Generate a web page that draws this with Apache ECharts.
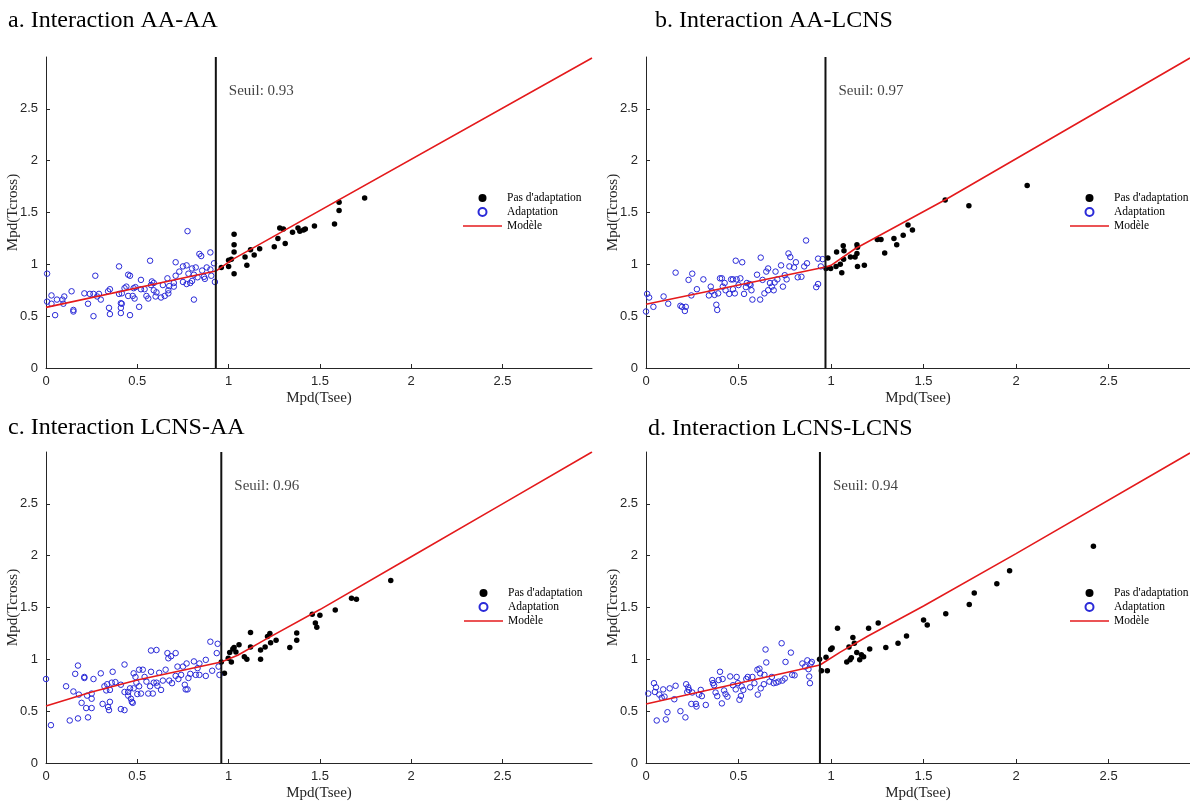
<!DOCTYPE html>
<html>
<head>
<meta charset="utf-8">
<script src="https://cdn.jsdelivr.net/npm/echarts@6/dist/echarts.min.js"></script>
<style>
html,body{margin:0;padding:0;background:#fff;}
#chart{width:1190px;height:804px;}
</style>
</head>
<body>
<div id="chart"></div>
<script>
// ---------------- DATA ----------------
const panelTitles = ['a. Interaction AA-AA', 'b. Interaction AA-LCNS', 'c. Interaction LCNS-AA', 'd. Interaction LCNS-LCNS'];
const thresholds = [0.93, 0.97, 0.96, 0.94];
const seuilLabels = ['Seuil: 0.93', 'Seuil: 0.97', 'Seuil: 0.96', 'Seuil: 0.94'];
const legendNames = ["Pas d'adaptation", 'Adaptation', 'Modèle'];
const tickValues = [0, 0.5, 1, 1.5, 2, 2.5];
const xAxisName = 'Mpd(Tsee)';
const yAxisName = 'Mpd(Tcross)';

// Panel a
const aBlue = [[0.006,0.91],[0.006,0.64],[0.03,0.70],[0.03,0.62],[0.05,0.51],[0.06,0.66],[0.09,0.66],[0.10,0.69],[0.095,0.62],[0.14,0.74],[0.15,0.56],[0.15,0.545],[0.21,0.72],[0.23,0.62],[0.24,0.715],[0.26,0.50],[0.26,0.715],[0.27,0.89],[0.28,0.69],[0.29,0.715],[0.30,0.66],[0.34,0.74],[0.345,0.58],[0.35,0.52],[0.35,0.76],[0.40,0.715],[0.40,0.98],[0.41,0.625],[0.41,0.58],[0.41,0.53],[0.415,0.62],[0.415,0.72],[0.43,0.77],[0.44,0.785],[0.45,0.90],[0.45,0.695],[0.46,0.51],[0.46,0.89],[0.475,0.695],[0.48,0.77],[0.485,0.67],[0.49,0.78],[0.51,0.59],[0.52,0.85],[0.52,0.76],[0.54,0.76],[0.55,0.695],[0.56,0.67],[0.57,1.035],[0.575,0.80],[0.58,0.835],[0.59,0.82],[0.59,0.75],[0.60,0.69],[0.605,0.73],[0.63,0.68],[0.64,0.80],[0.65,0.695],[0.665,0.865],[0.67,0.75],[0.67,0.72],[0.675,0.79],[0.70,0.82],[0.70,0.785],[0.71,1.02],[0.71,0.89],[0.73,0.93],[0.75,0.98],[0.75,0.83],[0.77,0.81],[0.77,0.99],[0.775,1.32],[0.78,0.91],[0.79,0.82],[0.80,0.84],[0.80,0.96],[0.81,0.66],[0.81,0.90],[0.82,0.97],[0.83,0.875],[0.84,1.10],[0.85,1.08],[0.855,0.94],[0.865,0.88],[0.87,0.86],[0.88,0.97],[0.90,0.95],[0.90,1.115],[0.905,0.89],[0.92,1.01],[0.925,0.83]];
const aBlack = [[0.96,0.97],[1.0,0.98],[1.0,1.04],[1.015,1.05],[1.03,1.29],[1.03,1.19],[1.03,1.12],[1.03,0.91],[1.09,1.07],[1.10,0.99],[1.12,1.14],[1.14,1.09],[1.17,1.15],[1.25,1.17],[1.27,1.25],[1.28,1.35],[1.30,1.34],[1.31,1.20],[1.35,1.31],[1.38,1.35],[1.39,1.32],[1.41,1.33],[1.42,1.34],[1.47,1.37],[1.58,1.39],[1.605,1.60],[1.605,1.52],[1.745,1.64]];
const aModel = [[0,0.585],[0.93,0.935],[1.02,1.045],[2.99,2.99]];

// Panel b
const bBlue = [[0,0.545],[0.006,0.715],[0.017,0.68],[0.04,0.59],[0.095,0.69],[0.12,0.62],[0.16,0.92],[0.186,0.60],[0.195,0.59],[0.21,0.55],[0.215,0.59],[0.23,0.85],[0.245,0.70],[0.25,0.91],[0.275,0.76],[0.31,0.855],[0.34,0.70],[0.35,0.785],[0.355,0.74],[0.37,0.705],[0.38,0.61],[0.385,0.56],[0.39,0.72],[0.40,0.865],[0.41,0.865],[0.415,0.785],[0.425,0.82],[0.43,0.75],[0.45,0.715],[0.46,0.855],[0.47,0.855],[0.47,0.76],[0.48,0.72],[0.485,1.035],[0.49,0.855],[0.50,0.80],[0.51,0.865],[0.52,1.02],[0.53,0.715],[0.54,0.78],[0.545,0.82],[0.56,0.81],[0.565,0.80],[0.57,0.75],[0.575,0.66],[0.60,0.90],[0.617,0.66],[0.62,1.065],[0.63,0.85],[0.64,0.72],[0.65,0.93],[0.66,0.96],[0.66,0.75],[0.67,0.82],[0.68,0.785],[0.69,0.75],[0.695,0.825],[0.70,0.93],[0.71,0.855],[0.73,0.99],[0.74,0.785],[0.75,0.895],[0.76,0.855],[0.77,1.105],[0.775,0.98],[0.78,1.07],[0.80,0.97],[0.81,1.02],[0.82,0.875],[0.84,0.88],[0.855,0.98],[0.865,1.23],[0.87,1.01],[0.92,0.78],[0.93,0.81],[0.93,1.055],[0.945,0.98],[0.955,1.05]];
const bBlack = [[0.973,0.96],[0.983,1.06],[0.998,0.96],[1.027,0.98],[1.03,1.12],[1.05,1.0],[1.058,0.92],[1.068,1.05],[1.066,1.18],[1.07,1.13],[1.105,1.07],[1.13,1.07],[1.14,1.105],[1.14,1.19],[1.143,1.165],[1.143,0.98],[1.18,0.99],[1.25,1.24],[1.27,1.24],[1.29,1.11],[1.34,1.25],[1.355,1.19],[1.39,1.28],[1.416,1.38],[1.44,1.33],[1.617,1.62],[1.745,1.565],[2.06,1.76]];
const bModel = [[0,0.615],[0.97,0.975],[1.0,0.99],[1.13,1.15],[1.62,1.625],[2.94,2.99]];

// Panel c
const cBlue = [[0.0,0.81],[0.027,0.365],[0.11,0.74],[0.13,0.41],[0.15,0.69],[0.16,0.86],[0.175,0.94],[0.18,0.66],[0.175,0.43],[0.195,0.58],[0.21,0.83],[0.21,0.82],[0.22,0.53],[0.225,0.65],[0.23,0.44],[0.25,0.67],[0.25,0.53],[0.25,0.62],[0.26,0.81],[0.30,0.865],[0.31,0.57],[0.32,0.74],[0.33,0.70],[0.335,0.76],[0.34,0.54],[0.345,0.51],[0.35,0.705],[0.35,0.59],[0.36,0.775],[0.365,0.88],[0.38,0.78],[0.41,0.52],[0.41,0.755],[0.43,0.51],[0.43,0.95],[0.43,0.685],[0.45,0.65],[0.45,0.685],[0.46,0.72],[0.465,0.62],[0.47,0.59],[0.475,0.58],[0.48,0.72],[0.48,0.865],[0.49,0.83],[0.495,0.775],[0.50,0.665],[0.51,0.90],[0.51,0.74],[0.52,0.67],[0.53,0.90],[0.54,0.83],[0.55,0.785],[0.56,0.67],[0.57,0.74],[0.575,1.085],[0.575,0.88],[0.585,0.67],[0.59,0.775],[0.605,1.09],[0.605,0.775],[0.61,0.745],[0.62,0.87],[0.63,0.705],[0.64,0.795],[0.655,0.90],[0.665,1.06],[0.67,1.01],[0.675,0.795],[0.685,1.03],[0.69,0.77],[0.71,0.84],[0.71,1.06],[0.72,0.93],[0.725,0.81],[0.74,0.85],[0.75,0.93],[0.76,0.755],[0.765,0.71],[0.77,0.96],[0.775,0.71],[0.78,0.82],[0.79,0.86],[0.81,0.98],[0.82,0.85],[0.83,0.915],[0.84,0.96],[0.84,0.85],[0.875,0.995],[0.875,0.84],[0.90,1.17],[0.91,0.89],[0.935,1.06],[0.94,1.15],[0.945,0.93],[0.95,0.85]];
const cBlack = [[0.96,0.975],[0.977,0.865],[0.998,1.01],[1.006,1.065],[1.015,0.975],[1.023,1.10],[1.03,1.115],[1.04,1.07],[1.057,1.14],[1.086,1.025],[1.10,1.0],[1.12,1.26],[1.12,1.12],[1.175,1.09],[1.175,1.0],[1.2,1.12],[1.213,1.22],[1.226,1.25],[1.23,1.16],[1.26,1.185],[1.335,1.115],[1.373,1.255],[1.373,1.185],[1.458,1.435],[1.475,1.35],[1.483,1.31],[1.50,1.425],[1.584,1.475],[1.673,1.59],[1.70,1.58],[1.888,1.76]];
const cModel = [[0,0.55],[0.25,0.685],[0.5,0.80],[0.75,0.895],[0.96,0.975],[1.05,1.04],[1.2,1.19],[1.5,1.48],[2,1.99],[2.5,2.5],[2.99,3.0]];

// Panel d
const dBlue = [[0.012,0.67],[0.043,0.77],[0.048,0.685],[0.054,0.73],[0.058,0.41],[0.072,0.66],[0.085,0.63],[0.093,0.71],[0.10,0.64],[0.107,0.42],[0.116,0.49],[0.128,0.72],[0.153,0.615],[0.16,0.745],[0.186,0.50],[0.213,0.44],[0.217,0.76],[0.223,0.685],[0.228,0.73],[0.232,0.705],[0.245,0.57],[0.25,0.68],[0.27,0.57],[0.273,0.545],[0.286,0.66],[0.296,0.705],[0.302,0.645],[0.323,0.56],[0.358,0.80],[0.362,0.77],[0.368,0.75],[0.376,0.68],[0.385,0.645],[0.393,0.80],[0.40,0.88],[0.41,0.575],[0.414,0.81],[0.422,0.70],[0.43,0.665],[0.44,0.64],[0.455,0.835],[0.47,0.75],[0.485,0.71],[0.49,0.83],[0.497,0.77],[0.505,0.61],[0.513,0.647],[0.517,0.74],[0.526,0.705],[0.542,0.81],[0.55,0.83],[0.563,0.73],[0.575,0.83],[0.586,0.77],[0.602,0.90],[0.604,0.66],[0.613,0.91],[0.617,0.865],[0.62,0.72],[0.637,0.76],[0.64,0.85],[0.646,1.095],[0.65,0.97],[0.667,0.785],[0.68,0.83],[0.69,0.77],[0.704,0.775],[0.716,0.785],[0.733,1.155],[0.737,0.795],[0.75,0.815],[0.754,0.975],[0.783,1.065],[0.79,0.85],[0.803,0.846],[0.845,0.96],[0.86,0.93],[0.872,0.99],[0.878,0.905],[0.882,0.835],[0.886,0.77],[0.89,0.96],[0.896,0.975]];
const dBlack = [[0.938,1.0],[0.948,0.89],[0.973,1.02],[0.98,0.89],[0.998,1.095],[1.006,1.11],[1.035,1.30],[1.085,0.975],[1.097,1.12],[1.103,0.995],[1.11,1.015],[1.118,1.21],[1.126,1.155],[1.139,1.065],[1.155,0.995],[1.164,1.045],[1.176,1.025],[1.203,1.30],[1.209,1.10],[1.255,1.35],[1.296,1.115],[1.362,1.155],[1.408,1.225],[1.50,1.38],[1.52,1.33],[1.62,1.44],[1.747,1.53],[1.774,1.64],[1.896,1.73],[1.965,1.855],[2.418,2.09]];
const dModel = [[0,0.57],[0.94,0.945],[1.05,1.07],[1.2,1.225],[1.5,1.515],[2,2.02],[2.94,2.99]];

const blueSets = [aBlue, bBlue, cBlue, dBlue];
const blackSets = [aBlack, bBlack, cBlack, dBlack];
const modelSets = [aModel, bModel, cModel, dModel];
const seuilY = 2.67;
const yMax = 3;

// ---------------- LAYOUT / STYLE ----------------
const grids = [
  {left: 46, top: 57, width: 546, height: 311},
  {left: 646, top: 57, width: 544, height: 311},
  {left: 46, top: 452, width: 546, height: 311},
  {left: 646, top: 452, width: 544, height: 311}
];
const xMaxes = [2.99, 2.94, 2.99, 2.94];
const titlePos = [{left: 8, top: 9}, {left: 655, top: 9}, {left: 8, top: 416}, {left: 648, top: 417}];
const legendPos = [{left: 463, top: 192}, {left: 1070, top: 192}, {left: 464, top: 587}, {left: 1070, top: 587}];

const AXIS_COLOR = '#262626';
const BLUE = '#2a2ad8';
const RED = '#e41a1c';
const SERIF = '"Liberation Serif", "Times New Roman", serif';
const SANS = '"Liberation Sans", Arial, sans-serif';
const LINE_ICON = 'path://M0,0L50,0L50,2L0,2Z';

const fmt = v => (Math.abs(v * 2 - Math.round(v * 2)) < 1e-6 && v <= 2.5 + 1e-9) ? String(+v.toFixed(1)) : '';

const option = {
  backgroundColor: '#ffffff',
  animation: false,
  title: panelTitles.map((t, i) => ({
    text: t, left: titlePos[i].left, top: titlePos[i].top, padding: 0,
    textStyle: {fontFamily: SERIF, fontSize: 24, fontWeight: 'normal', color: '#000'}
  })),
  legend: legendPos.map((p, i) => ({
    data: [legendNames[0], legendNames[1], {name: legendNames[2], icon: LINE_ICON}],
    orient: 'vertical', left: p.left, top: p.top, padding: 0,
    itemWidth: 39, itemHeight: 8, itemGap: 2, selectedMode: false,
    textStyle: {fontFamily: SERIF, fontSize: 11.5, color: '#000', lineHeight: 12}
  })),
  grid: grids.map(g => Object.assign({containLabel: false, outerBoundsMode: 'none'}, g)),
  xAxis: grids.map((g, i) => ({
    type: 'value', gridIndex: i, min: 0, max: xMaxes[i], interval: 0.5,
    name: xAxisName, nameLocation: 'middle', nameGap: 23, nameMoveOverlap: false,
    nameTextStyle: {fontFamily: SERIF, fontSize: 15, color: AXIS_COLOR},
    axisLine: {show: true, onZero: false, lineStyle: {color: AXIS_COLOR, width: 1}},
    axisTick: {show: true, inside: true, length: 4, customValues: tickValues, lineStyle: {color: AXIS_COLOR}},
    axisLabel: {show: true, customValues: tickValues, formatter: fmt, margin: 7, fontFamily: SANS, fontSize: 13, color: AXIS_COLOR},
    splitLine: {show: false}
  })),
  yAxis: grids.map((g, i) => ({
    type: 'value', gridIndex: i, min: 0, max: yMax, interval: 0.5,
    name: yAxisName, nameLocation: 'middle', nameGap: 25, nameMoveOverlap: false,
    nameTextStyle: {fontFamily: SERIF, fontSize: 15, color: AXIS_COLOR},
    axisLine: {show: true, onZero: false, lineStyle: {color: AXIS_COLOR, width: 1}},
    axisTick: {show: true, inside: true, length: 4, customValues: tickValues, lineStyle: {color: AXIS_COLOR}},
    axisLabel: {show: true, customValues: tickValues, formatter: fmt, margin: 8, fontFamily: SANS, fontSize: 13, color: AXIS_COLOR},
    splitLine: {show: false}
  })),
  series: []
};

for (let i = 0; i < 4; i++) {
  option.series.push({
    name: "Pas d'adaptation", type: 'scatter', xAxisIndex: i, yAxisIndex: i,
    data: blackSets[i], symbol: 'circle', symbolSize: 5.5,
    itemStyle: {color: '#000', opacity: 1}, silent: true
  });
  option.series.push({
    name: 'Adaptation', type: 'scatter', xAxisIndex: i, yAxisIndex: i,
    data: blueSets[i], symbol: 'circle', symbolSize: 5.5,
    itemStyle: {color: 'rgba(255,255,255,0)', borderColor: BLUE, borderWidth: 1, opacity: 1}, silent: true
  });
  option.series.push({
    name: 'Modèle', type: 'line', xAxisIndex: i, yAxisIndex: i,
    data: modelSets[i], symbol: 'none', smooth: false, clip: true,
    lineStyle: {color: RED, width: 1.6}, itemStyle: {color: RED}, silent: true
  });
  option.series.push({
    name: 'Seuil', type: 'line', xAxisIndex: i, yAxisIndex: i,
    data: [[thresholds[i], 0], [thresholds[i], yMax]], symbol: 'none',
    lineStyle: {color: '#111', width: 2}, silent: true
  });
  option.series.push({
    name: 'SeuilLabel', type: 'scatter', xAxisIndex: i, yAxisIndex: i,
    data: [[thresholds[i], seuilY]], symbolSize: 0, silent: true,
    label: {show: true, position: 'right', distance: 13, formatter: seuilLabels[i],
      fontFamily: SERIF, fontSize: 15, color: '#111'}
  });
}

const chart = echarts.init(document.getElementById('chart'), null, {renderer: 'canvas'});
chart.setOption(option);
</script>
</body>
</html>
